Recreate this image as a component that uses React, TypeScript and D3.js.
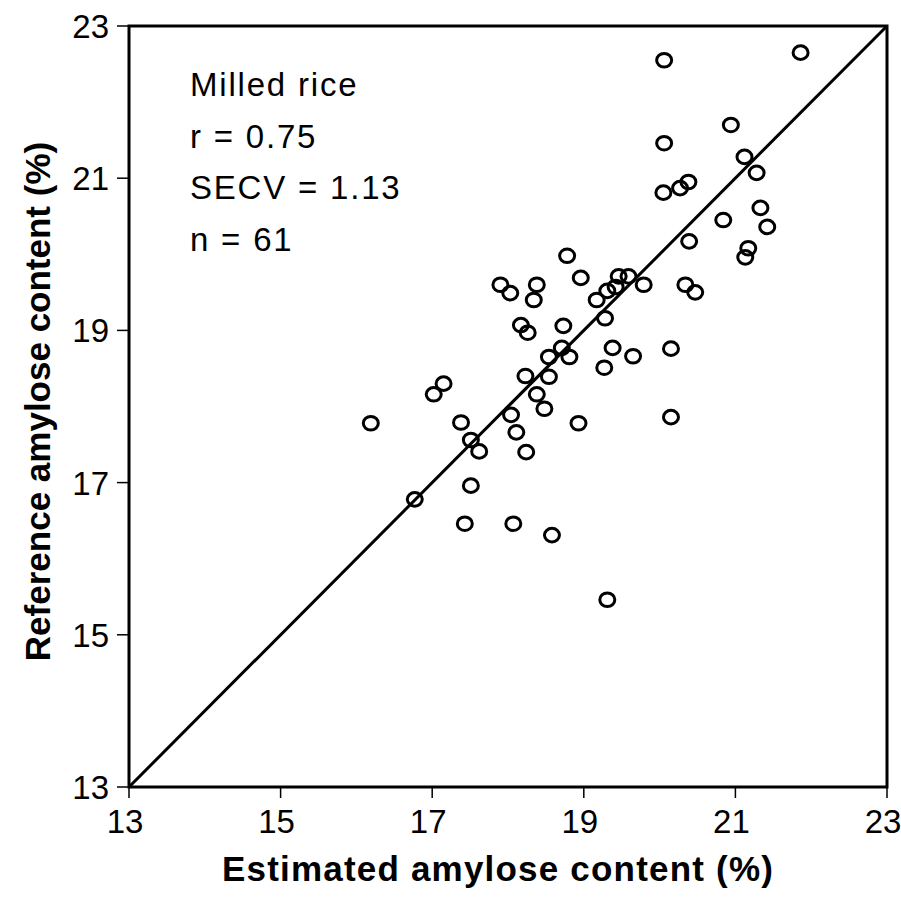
import React from "react";
import * as d3 from "d3";

const estimated = [
  21.86, 20.06, 20.94, 20.06, 21.12, 21.28, 20.05, 20.27, 20.38, 21.33,
  21.42, 20.84, 20.39, 21.17, 21.13, 19.79, 20.34, 20.47, 19.46, 19.59,
  19.31, 19.28, 19.38, 19.65, 20.15, 19.27, 20.15, 18.78, 18.96, 19.17,
  17.9, 18.03, 18.38, 18.34, 18.17, 18.26, 18.73, 18.54, 18.71, 18.81,
  18.23, 18.54, 18.38, 18.48, 17.15, 17.02, 16.19, 17.38, 18.93, 18.04,
  18.11, 17.62, 17.51, 18.24, 17.51, 16.77, 17.43, 18.07, 18.58, 19.31,
  19.42,
];
const reference = [
  22.65, 22.55, 21.7, 21.46, 21.28, 21.07, 20.81, 20.87, 20.95, 20.61,
  20.36, 20.45, 20.17, 20.08, 19.96, 19.6, 19.6, 19.5, 19.71, 19.71,
  19.52, 19.16, 18.77, 18.66, 18.76, 18.51, 17.86, 19.98, 19.69, 19.4,
  19.6, 19.49, 19.6, 19.4, 19.07, 18.97, 19.06, 18.65, 18.77, 18.65,
  18.4, 18.39, 18.16, 17.97, 18.3, 18.16, 17.78, 17.79, 17.78, 17.89,
  17.66, 17.41, 17.56, 17.4, 16.96, 16.78, 16.46, 16.46, 16.31, 15.46,
  19.57,
];
const tickValues = [13, 15, 17, 19, 21, 23];
const annotations = ["Milled rice", "r = 0.75", "SECV = 1.13", "n = 61"];
const xTitle = "Estimated amylose content (%)";
const yTitle = "Reference amylose content (%)";

const W = 901;
const H = 905;
const L = 129, R = 887, T = 26, B = 787;

export default function App() {
  const x = d3.scaleLinear().domain([13, 23]).range([L, R]);
  const y = d3.scaleLinear().domain([13, 23]).range([B, T]);
  const line = d3.line<number>().x((d) => x(d)).y((d) => y(d));
  const font = "'Liberation Sans', Arial, sans-serif";

  return (
    <svg
      width={W}
      height={H}
      style={{ position: "absolute", left: 0, top: 0, background: "#fff" }}
      fontFamily={font}
    >
      <rect x={0} y={0} width={W} height={H} fill="#fff" />
      {/* frame */}
      <rect x={L} y={T} width={R - L} height={B - T} fill="none" stroke="#000" strokeWidth={3} />
      {/* ticks */}
      {tickValues.map((t) => (
        <g key={"x" + t}>
          <line x1={x(t)} x2={x(t)} y1={B} y2={B + 11} stroke="#000" strokeWidth={1.5} />
          <text x={x(t) - 4} y={B + 46} textAnchor="middle" fontSize={33} fill="#000">
            {t}
          </text>
        </g>
      ))}
      {tickValues.map((t) => (
        <g key={"y" + t}>
          <line x1={L - 12} x2={L} y1={y(t)} y2={y(t)} stroke="#000" strokeWidth={1.5} />
          <text x={L - 20} y={y(t) + 12} textAnchor="end" fontSize={33} fill="#000">
            {t}
          </text>
        </g>
      ))}
      {/* 1:1 line */}
      <path d={line([13, 23]) || ""} stroke="#000" strokeWidth={3} fill="none" />
      {/* points */}
      {estimated.map((e, i) => (
        <ellipse
          key={i}
          cx={x(e)}
          cy={y(reference[i])}
          rx={7.5}
          ry={6.8}
          fill="none"
          stroke="#000"
          strokeWidth={3}
        />
      ))}
      {/* annotations */}
      {annotations.map((a, i) => (
        <text key={a} x={190} y={96 + i * 51.5} fontSize={33} fill="#000" letterSpacing={1.8}>
          {a}
        </text>
      ))}
      {/* axis titles */}
      <text x={498} y={881} textAnchor="middle" fontSize={35} fontWeight="bold" fill="#000" letterSpacing={1.2}>
        {xTitle}
      </text>
      <text
        transform={`translate(50, ${(T + B) / 2 - 5}) rotate(-90)`}
        textAnchor="middle"
        fontSize={35}
        fontWeight="bold"
        fill="#000"
      >
        {yTitle}
      </text>
    </svg>
  );
}
